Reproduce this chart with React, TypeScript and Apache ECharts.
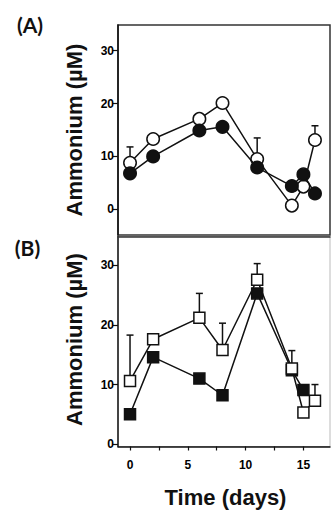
import React, { useEffect, useRef } from "react";
import * as echarts from "echarts";

// Sampling days (shared by both panels)
const days = [0, 2, 6, 8, 11, 14, 15, 16];

// Panel (A): ammonium, µM
const aOpen = [8.8, 13.3, 17.1, 20.1, 9.5, 0.7, 4.3, 13.1];
const aFilled = [6.8, 10.0, 14.9, 15.6, 7.9, 4.4, 6.6, 3.0];
const aOpenSd = [3.0, null, null, null, 4.0, null, null, 2.7];

// Panel (B): ammonium, µM
const bOpen = [10.6, 17.6, 21.2, 15.8, 27.6, 12.7, 5.3, 7.3];
const bFilled = [5.0, 14.6, 11.0, 8.2, 25.3, 12.4, 9.1, null];
const bOpenSd = [7.7, null, 4.1, 4.5, 2.7, 3.0, null, 2.7];

const yTicks = [0, 10, 20, 30];
const xTicks = [0, 2.5, 5, 7.5, 10, 12.5, 15];
const xLabels = [0, 5, 10, 15];

const FONT = "'Liberation Sans', Arial, sans-serif";

const pairs = (ys: (number | null)[]) =>
  days.map((d, i) => [d, ys[i]]).filter((p) => p[1] !== null);

const errData = (ys: (number | null)[], sd: (number | null)[]) =>
  days
    .map((d, i) => [d, ys[i], sd[i]])
    .filter((p) => p[1] !== null && p[2] !== null);

const errorSeries = (idx: number, ys: (number | null)[], sd: (number | null)[]) => ({
  type: "custom",
  xAxisIndex: idx,
  yAxisIndex: idx,
  z: 1,
  silent: true,
  data: errData(ys, sd),
  renderItem: (_params: any, api: any) => {
    const x = api.value(0);
    const y = api.value(1);
    const s = api.value(2);
    const base = api.coord([x, y]);
    const top = api.coord([x, y + s]);
    const style = { stroke: "#111", lineWidth: 1.5 };
    return {
      type: "group",
      children: [
        { type: "line", shape: { x1: base[0], y1: base[1], x2: top[0], y2: top[1] }, style },
        { type: "line", shape: { x1: top[0] - 3.5, y1: top[1], x2: top[0] + 3.5, y2: top[1] }, style },
      ],
    };
  },
});

const markerSeries = (
  idx: number,
  ys: (number | null)[],
  symbol: string,
  size: number,
  fill: string,
  z: number
) => ({
  type: "line",
  xAxisIndex: idx,
  yAxisIndex: idx,
  z,
  data: pairs(ys),
  symbol,
  symbolSize: size,
  showAllSymbol: true,
  lineStyle: { color: "#111", width: 1.5 },
  itemStyle: { color: fill, borderColor: "#111", borderWidth: 1.5 },
});

const valueAxisY = (idx: number, min: number, max: number) => ({
  type: "value",
  gridIndex: idx,
  min,
  max,
  splitLine: { show: false },
  axisLine: { show: true, onZero: false, lineStyle: { color: "#111", width: 1.5 } },
  axisTick: {
    show: true,
    inside: false,
    length: 5,
    customValues: yTicks,
    lineStyle: { color: "#111", width: 1.2 },
  },
  axisLabel: {
    customValues: yTicks,
    margin: 4,
    color: "#000",
    fontFamily: FONT,
    fontWeight: "bold",
    fontSize: 12,
  },
});

export default function App() {
  const ref = useRef<HTMLDivElement>(null);

  useEffect(() => {
    if (!ref.current) return;
    const chart = echarts.init(ref.current, null, { renderer: "svg" });

    chart.setOption({
      animation: false,
      backgroundColor: "#fff",
      grid: [
        {
          left: 118,
          top: 25,
          width: 212,
          height: 210,
          show: true,
          borderColor: "#333",
          borderWidth: 1.5,
        },
        {
          left: 118,
          top: 236.5,
          width: 212,
          height: 210,
          show: true,
          borderColor: "#bbb",
          borderWidth: 1,
        },
      ],
      xAxis: [
        {
          type: "value",
          gridIndex: 0,
          min: -1.04,
          max: 17.3,
          axisLine: { show: false },
          axisTick: { show: false },
          axisLabel: { show: false },
          splitLine: { show: false },
        },
        {
          type: "value",
          gridIndex: 1,
          min: -1.04,
          max: 17.3,
          splitLine: { show: false },
          axisLine: { show: true, onZero: false, lineStyle: { color: "#111", width: 1.5 } },
          axisTick: {
            show: true,
            length: 4,
            customValues: xTicks,
            lineStyle: { color: "#111", width: 1.2 },
          },
          axisLabel: {
            customValues: xLabels,
            margin: 12,
            color: "#000",
            fontFamily: FONT,
            fontWeight: "bold",
            fontSize: 12,
          },
        },
        {
          type: "value",
          gridIndex: 1,
          position: "top",
          min: -1.04,
          max: 17.3,
          splitLine: { show: false },
          axisLine: { show: true, onZero: false, lineStyle: { color: "#333", width: 1.5 } },
          axisTick: { show: false },
          axisLabel: { show: false },
        },
      ],
      yAxis: [valueAxisY(0, -4.86, 34.86), valueAxisY(1, -0.4, 34.85)],
      series: [
        errorSeries(0, aOpen, aOpenSd),
        markerSeries(0, aOpen, "circle", 12.5, "#fff", 2),
        markerSeries(0, aFilled, "circle", 12.5, "#111", 3),
        errorSeries(1, bOpen, bOpenSd),
        markerSeries(1, bFilled, "rect", 11, "#111", 2),
        markerSeries(1, bOpen, "rect", 11, "#fff", 3),
      ],
      graphic: [
        {
          type: "text",
          x: 30,
          y: 24,
          style: {
            text: "(A)",
            fill: "#111",
            font: "bold 21px Lato, 'Liberation Sans', sans-serif",
            textAlign: "center",
            textVerticalAlign: "middle",
          },
        },
        {
          type: "text",
          x: 27.5,
          y: 247,
          style: {
            text: "(B)",
            fill: "#111",
            font: "bold 21px Lato, 'Liberation Sans', sans-serif",
            textAlign: "center",
            textVerticalAlign: "middle",
          },
        },
        {
          type: "text",
          x: 74,
          y: 130,
          rotation: Math.PI / 2,
          style: {
            text: "Ammonium (µM)",
            fill: "#111",
            font: `bold 22px ${FONT}`,
            textAlign: "center",
            textVerticalAlign: "middle",
          },
        },
        {
          type: "text",
          x: 74,
          y: 339.5,
          rotation: Math.PI / 2,
          style: {
            text: "Ammonium (µM)",
            fill: "#111",
            font: `bold 22px ${FONT}`,
            textAlign: "center",
            textVerticalAlign: "middle",
          },
        },
        {
          type: "text",
          x: 225.5,
          y: 497,
          style: {
            text: "Time (days)",
            fill: "#111",
            font: `bold 22px ${FONT}`,
            textAlign: "center",
            textVerticalAlign: "middle",
          },
        },
      ],
    });

    return () => chart.dispose();
  }, []);

  return (
    <div
      ref={ref}
      style={{ position: "absolute", left: 0, top: 0, width: 331, height: 516 }}
    />
  );
}
